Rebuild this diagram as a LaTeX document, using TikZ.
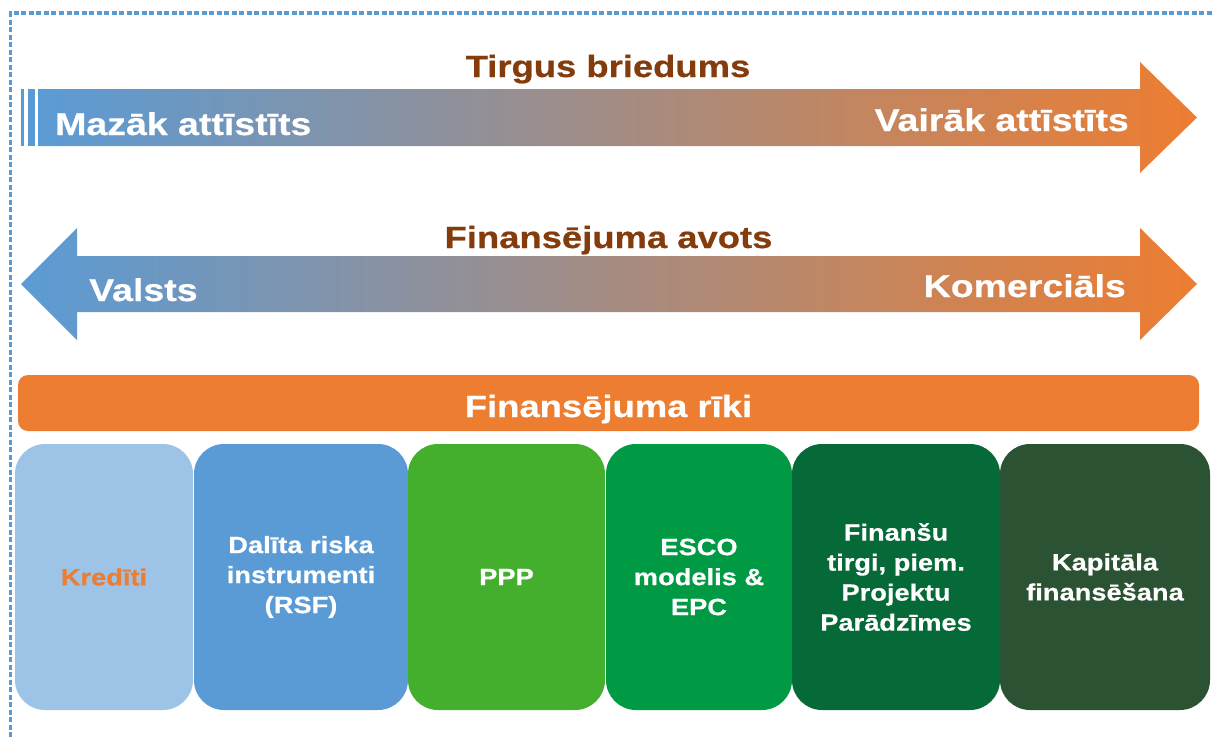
\documentclass[tikz,border=0pt]{standalone}
\usepackage{fontspec}
\setmainfont{Liberation Sans}
\newfontfamily\widesans[FakeStretch=1.19,FakeBold=0.6]{Liberation Sans}
\newfontfamily\boxsans[FakeStretch=1.16,FakeBold=0.5]{Liberation Sans}
\definecolor{cblue}{HTML}{5B9BD5}
\definecolor{clblue}{HTML}{9DC3E6}
\definecolor{corange}{HTML}{ED7D31}
\definecolor{cbrown}{HTML}{843C0C}
\definecolor{cgreenA}{HTML}{43AF2C}
\definecolor{cgreenB}{HTML}{009A44}
\definecolor{cgreenC}{HTML}{056A37}
\definecolor{cgreenD}{HTML}{2C5234}
\tikzset{
  bigtxt/.style={font=\widesans\bfseries\fontsize{31.5}{36}\selectfont, inner sep=0pt},
  titletxt/.style={font=\widesans\bfseries\fontsize{30.6}{36}\selectfont, inner sep=0pt},
  tool/.style={rounded corners=30, minimum width=#1, minimum height=266, inner sep=0pt,
    align=center, text=white, font=\boxsans\bfseries\fontsize{23.5}{30}\selectfont},
  gradarrow/.style={left color=cblue, right color=corange, draw=none},
}
\begin{document}
\begin{tikzpicture}[x=1pt,y=-1pt]
\useasboundingbox (0,0) rectangle (1213,737);
% dashed frame
\draw[cblue, line width=3.2, dash pattern=on 5 off 2.5] (10.5,737) -- (10.5,13) -- (1213,13);
% top arrow (market maturity)
\fill[cblue] (21,89) rectangle (24,146);
\fill[cblue] (28,89) rectangle (35,146);
\shade[gradarrow] (38,89) -- (1140,89) -- (1140,62) -- (1197,117.5) -- (1140,173) -- (1140,146) -- (38,146) -- cycle;
\node[titletxt, text=cbrown, anchor=base] (t1) at (608,77) {Tirgus briedums};
\node[bigtxt, text=white, anchor=base west] (l1) at (55,135) {Mazāk attīstīts};
\node[bigtxt, text=white, anchor=base east] (r1) at (1129,131) {Vairāk attīstīts};
% second arrow (financing source)
\shade[gradarrow] (21,284) -- (77,228) -- (77,256) -- (1140,256) -- (1140,228) -- (1197,284) -- (1140,340) -- (1140,312) -- (77,312) -- (77,340) -- cycle;
\node[titletxt, text=cbrown, anchor=base] (t2) at (608.5,248) {Finansējuma avots};
\node[bigtxt, text=white, anchor=base west] (l2) at (89,301) {Valsts};
\node[bigtxt, text=white, anchor=base east] (r2) at (1126,297) {Komerciāls};
% orange bar
\node[fill=corange, rounded corners=10, minimum width=1181, minimum height=56, inner sep=0pt] (bar) at (608.5,403) {};
\node[titletxt, text=white, anchor=base] (bartxt) at (608.5,417) {Finansējuma rīki};
% tool boxes
\node[tool=178, fill=clblue, text=corange] (b1) at (104,577) {Kredīti};
\node[tool=214, fill=cblue] (b2) at (301,577) {Dalīta riska\\instrumenti\\(RSF)};
\node[tool=197, fill=cgreenA] (b3) at (506.5,577) {PPP};
\node[tool=186, fill=cgreenB] (b4) at (699,577) {ESCO\\modelis \&\\EPC};
\node[tool=208, fill=cgreenC] (b5) at (896,577) {Finanšu\\tirgi, piem.\\Projektu\\Parādzīmes};
\node[tool=210, fill=cgreenD] (b6) at (1105,577) {Kapitāla\\finansēšana};
\end{tikzpicture}
\end{document}
